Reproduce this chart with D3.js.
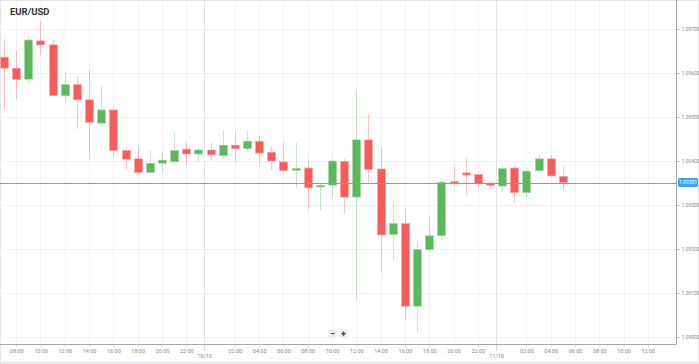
<!DOCTYPE html>
<html>
<head>
<meta charset="utf-8">
<script src="https://cdn.jsdelivr.net/npm/d3@7"></script>
<style>
    body { margin: 0; background: #fff; font-family: Roboto, "Open Sans", sans-serif; }
    #chart { width: 699px; height: 364px; }
</style>
</head>
<body>
<div id="chart"></div>
<script>
// hourly candles, 2019-10-09 07:00 -> 2019-10-11 05:00
var startHour = new Date(2019, 9, 9, 7);
var opens  = [1.09636, 1.09611, 1.09586, 1.09673, 1.09664, 1.09548, 1.09574, 1.09539, 1.09486, 1.09516,
              1.09424, 1.09405, 1.09374, 1.09395, 1.09398, 1.09427, 1.09416, 1.09425, 1.09412, 1.09436,
              1.09428, 1.09445, 1.09420, 1.09398, 1.09379, 1.09384, 1.09341, 1.09345, 1.09399, 1.09318,
              1.09448, 1.09382, 1.09233, 1.09258, 1.09070, 1.09199, 1.09230, 1.09353, 1.09373, 1.09369,
              1.09350, 1.09343, 1.09384, 1.09328, 1.09378, 1.09405, 1.09365];
var highs  = [1.09677, 1.09650, 1.09685, 1.09717, 1.09677, 1.09601, 1.09593, 1.09607, 1.09570, 1.09516,
              1.09431, 1.09435, 1.09424, 1.09419, 1.09464, 1.09442, 1.09431, 1.09442, 1.09470, 1.09464,
              1.09469, 1.09457, 1.09434, 1.09442, 1.09442, 1.09404, 1.09348, 1.09404, 1.09405, 1.09558,
              1.09507, 1.09429, 1.09308, 1.09290, 1.09215, 1.09275, 1.09355, 1.09386, 1.09406, 1.09374,
              1.09353, 1.09389, 1.09389, 1.09386, 1.09416, 1.09414, 1.09389];
var lows   = [1.09518, 1.09541, 1.09577, 1.09641, 1.09547, 1.09535, 1.09473, 1.09405, 1.09478, 1.09410,
              1.09380, 1.09372, 1.09373, 1.09376, 1.09395, 1.09391, 1.09398, 1.09401, 1.09406, 1.09398,
              1.09424, 1.09393, 1.09380, 1.09376, 1.09340, 1.09290, 1.09289, 1.09318, 1.09280, 1.09089,
              1.09348, 1.09146, 1.09175, 1.09041, 1.09011, 1.09193, 1.09220, 1.09345, 1.09324, 1.09339,
              1.09334, 1.09330, 1.09305, 1.09319, 1.09373, 1.09364, 1.09336];
var closes = [1.09611, 1.09585, 1.09675, 1.09664, 1.09549, 1.09574, 1.09539, 1.09488, 1.09516, 1.09424,
              1.09404, 1.09374, 1.09395, 1.09402, 1.09424, 1.09416, 1.09425, 1.09414, 1.09436, 1.09428,
              1.09445, 1.09418, 1.09400, 1.09378, 1.09383, 1.09339, 1.09345, 1.09400, 1.09318, 1.09448,
              1.09381, 1.09232, 1.09258, 1.09070, 1.09199, 1.09230, 1.09352, 1.09352, 1.09368, 1.09349,
              1.09345, 1.09383, 1.09328, 1.09377, 1.09405, 1.09366, 1.09351];
var priceTicks = [1.09000, 1.09100, 1.09200, 1.09300, 1.09400, 1.09500, 1.09600, 1.09700];
var lastPrice = 1.09351;
var symbol = "EUR/USD";

var data = opens.map(function(o, i) {
    return {
        date: d3.timeHour.offset(startHour, i),
        open: o, high: highs[i], low: lows[i], close: closes[i]
    };
});

var W = 699, H = 364;
var plot = {left: 0, top: 0, right: 676, bottom: 344};

var svg = d3.select("#chart").append("svg")
    .attr("width", W)
    .attr("height", H);

// scales
var x = d3.scaleTime()
    .domain([new Date(2019, 9, 9, 6, 40), new Date(2019, 9, 11, 14, 19)])
    .range([plot.left, plot.right]);
var y = d3.scaleLinear()
    .domain([1.09000, 1.09700])
    .range([337, 29]);

// frame + bottom band
svg.append("rect").attr("x", 0).attr("y", 361).attr("width", W).attr("height", 3).attr("fill", "#eeeeee");
svg.append("rect").attr("x", 0.5).attr("y", 0.5).attr("width", W - 1).attr("height", H - 1)
    .attr("fill", "none").attr("stroke", "#e6e6e6");

// time ticks every 2h, midnight replaced by a day separator
var allTicks = d3.timeHour.every(2).range(x.domain()[0], new Date(2019, 9, 11, 13));
var timeTicks = allTicks.filter(function(d) { return d.getHours() !== 0; });
var days = d3.timeDay.range(x.domain()[0], x.domain()[1]);
var sepX = function(d) { return x(d3.timeMinute.offset(d, -30)); };

var grid = svg.append("g").attr("class", "grid");
grid.selectAll(".hgrid")
    .data(priceTicks)
    .enter().append("line")
    .attr("x1", plot.left).attr("x2", plot.right)
    .attr("y1", function(d) { return Math.round(y(d)) + 0.5; })
    .attr("y2", function(d) { return Math.round(y(d)) + 0.5; })
    .attr("stroke", "#f2f2f2");
grid.selectAll(".vgrid")
    .data(timeTicks)
    .enter().append("line")
    .attr("x1", function(d) { return Math.round(x(d)) + 0.5; })
    .attr("x2", function(d) { return Math.round(x(d)) + 0.5; })
    .attr("y1", plot.top).attr("y2", plot.bottom)
    .attr("stroke", "#f2f2f2");
grid.selectAll(".sep")
    .data(days)
    .enter().append("line")
    .attr("x1", function(d) { return Math.round(sepX(d)) + 0.5; })
    .attr("x2", function(d) { return Math.round(sepX(d)) + 0.5; })
    .attr("y1", plot.top).attr("y2", plot.bottom)
    .attr("stroke", "#e4e4e4");

// candles
var green = "#5cb85c", red = "#f75c5c";
var bodyW = 8;
var candles = svg.append("g").attr("class", "candles")
    .selectAll("g")
    .data(data)
    .enter().append("g");

candles.append("line")
    .attr("x1", function(d) { return Math.round(x(d.date)) + 0.5; })
    .attr("x2", function(d) { return Math.round(x(d.date)) + 0.5; })
    .attr("y1", function(d) { return y(d.high); })
    .attr("y2", function(d) { return y(d.low); })
    .attr("stroke", function(d) { return d.close >= d.open ? green : red; })
    .attr("stroke-opacity", 0.35);

candles.append("rect")
    .attr("x", function(d) { return Math.round(x(d.date)) - bodyW / 2 + 0.5; })
    .attr("y", function(d) { return y(Math.max(d.open, d.close)); })
    .attr("width", bodyW)
    .attr("height", function(d) { return Math.max(1.5, Math.abs(y(d.open) - y(d.close))); })
    .attr("fill", function(d) { return d.close >= d.open ? green : red; })
    .attr("stroke", function(d) { return d.close >= d.open ? "#9fd69f" : "#fba3a3"; })
    .attr("stroke-width", 0.6);

// current price line, on top of the candles
svg.append("line")
    .attr("x1", plot.left).attr("x2", plot.right)
    .attr("y1", Math.round(y(lastPrice)) + 0.5)
    .attr("y2", Math.round(y(lastPrice)) + 0.5)
    .style("stroke", "#4eaaf2")
    .style("stroke-width", 1);

// right axis
var yAxis = svg.append("g")
    .attr("transform", "translate(" + (plot.right + 0.5) + ",0)")
    .call(d3.axisRight(y).tickValues(priceTicks).tickFormat(d3.format(".5f")).tickSize(3).tickPadding(2));
yAxis.select(".domain").attr("stroke", "#a8a8a8").attr("d", "M0," + plot.top + "V" + plot.bottom);
yAxis.selectAll(".tick line").attr("stroke", "#bbb");
yAxis.selectAll("text").attr("fill", "#888").attr("font-size", "5px").attr("font-family", "Roboto, sans-serif");

// bottom axis
var xAxis = svg.append("g")
    .attr("transform", "translate(0," + (plot.bottom + 0.5) + ")")
    .call(d3.axisBottom(x).tickValues(timeTicks).tickFormat(d3.timeFormat("%H:%M")).tickSize(2).tickPadding(3));
xAxis.select(".domain").attr("stroke", "#a8a8a8").attr("d", "M" + plot.left + ",0H" + (plot.right + 0.5));
xAxis.selectAll(".tick line").attr("stroke", "#ccc");
xAxis.selectAll("text").attr("fill", "#888").attr("font-size", "5.5px").attr("font-family", "Roboto, sans-serif");

// day labels under the separators
var dayG = svg.append("g").selectAll("g").data(days).enter().append("g")
    .attr("transform", function(d) { return "translate(" + (Math.round(sepX(d)) + 0.5) + "," + plot.bottom + ")"; });
dayG.append("line").attr("y1", 1).attr("y2", 7).attr("stroke", "#bbb").attr("stroke-dasharray", "1,1");
dayG.append("text")
    .attr("y", 14)
    .attr("text-anchor", "middle")
    .attr("fill", "#888")
    .attr("font-size", "5.5px")
    .text(d3.timeFormat("%d/%m"));

// last price tag
var tag = svg.append("g").attr("transform", "translate(" + (plot.right + 1) + "," + y(lastPrice) + ")");
tag.append("rect").attr("x", 1).attr("y", -4.5).attr("width", 20).attr("height", 9).attr("rx", 1.5).attr("fill", "#3da5f4");
tag.append("text").attr("x", 11).attr("y", 0).attr("dy", "0.35em").attr("text-anchor", "middle")
    .attr("fill", "#fff").attr("font-size", "5px").text(d3.format(".5f")(lastPrice));

// title
svg.append("text")
    .attr("x", 10).attr("y", 15)
    .attr("fill", "#333")
    .attr("font-size", "9.5px")
    .attr("font-weight", "bold")
    .attr("font-family", "Roboto, sans-serif")
    .text(symbol);

// zoom buttons
var btns = svg.append("g").selectAll("g").data(["\u2212", "+"]).enter().append("g")
    .attr("transform", function(d, i) { return "translate(" + (328 + i * 11) + ",329)"; });
btns.append("rect").attr("width", 9).attr("height", 9).attr("rx", 1).attr("fill", "#f0f0f0");
btns.append("text").attr("x", 4.5).attr("y", 4.5).attr("dy", "0.35em").attr("text-anchor", "middle")
    .attr("font-size", "9px").attr("font-weight", "bold").attr("fill", "#444").text(function(d) { return d; });
</script>
</body>
</html>
